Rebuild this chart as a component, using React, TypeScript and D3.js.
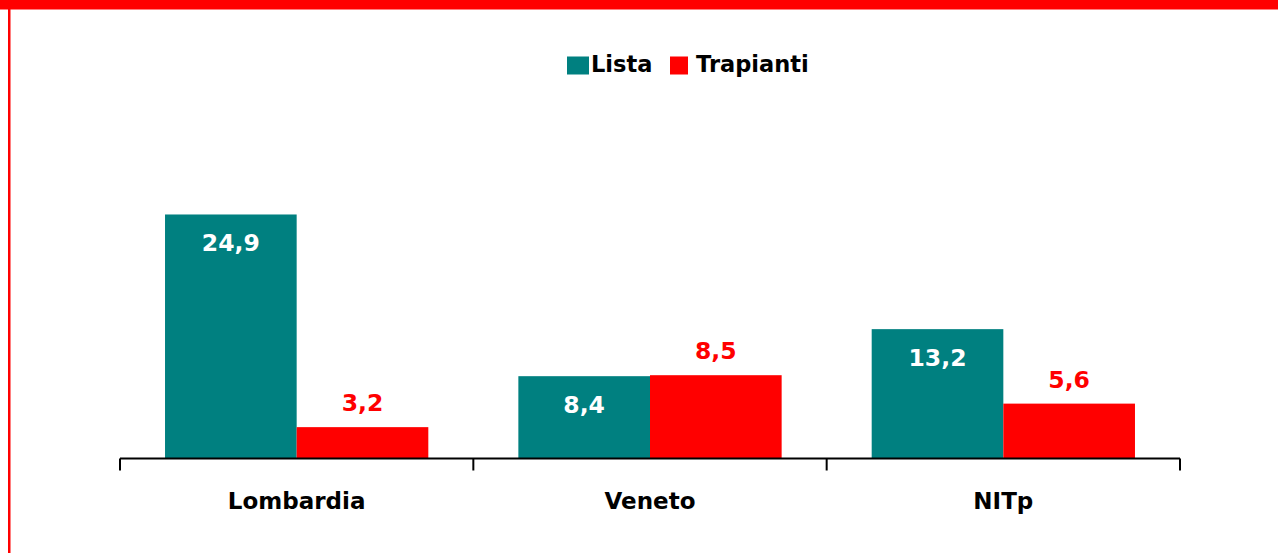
import * as d3 from 'd3'
import { useRef, useEffect } from 'react'

const categories = ['Lombardia', 'Veneto', 'NITp']
const seriesNames = ['Lista', 'Trapianti']
const lista = [24.9, 8.4, 13.2]
const trapianti = [3.2, 8.5, 5.6]
const colors = ['#008080', '#FF0000']

const W = 1278
const H = 553
const FONT = '"DejaVu Sans", Verdana, sans-serif'

function App() {
    const svgRef = useRef<SVGSVGElement>(null)

    useEffect(() => {
        const svg = d3.select(svgRef.current)
        svg.selectAll('*').remove()

        // frame: thick red band on top, thin red line on the left
        svg.append('rect').attr('x', 0).attr('y', 0).attr('width', W).attr('height', 9.5).attr('fill', '#FF0000')
        svg.append('rect').attr('x', 8).attr('y', 0).attr('width', 2.5).attr('height', H).attr('fill', '#FF0000')

        const left = 120, right = 1180, baseY = 458.5
        const scaleX = d3.scaleBand().domain(categories).range([left, right]).paddingInner(0).paddingOuter(0)
        const scaleY = d3.scaleLinear().domain([0, 30]).range([baseY, baseY - 294])
        const inner = d3.scaleBand().domain(seriesNames).range([0, scaleX.bandwidth()]).paddingOuter(0.342).paddingInner(0)

        const series = [lista, trapianti]
        const g = svg.append('g')

        series.forEach((vals, si) => {
            const name = seriesNames[si]
            g.selectAll('.bar-' + si)
                .data(vals)
                .join('rect')
                .attr('class', 'bar-' + si)
                .attr('x', (_, i) => scaleX(categories[i])! + inner(name)!)
                .attr('y', d => scaleY(d))
                .attr('width', inner.bandwidth())
                .attr('height', d => baseY - scaleY(d))
                .attr('fill', colors[si])

            g.selectAll('.lbl-' + si)
                .data(vals)
                .join('text')
                .attr('class', 'lbl-' + si)
                .attr('x', (_, i) => scaleX(categories[i])! + inner(name)! + inner.bandwidth() / 2)
                .attr('y', d => si === 0 ? scaleY(d) + 37 : scaleY(d) - 16)
                .attr('text-anchor', 'middle')
                .attr('font-family', FONT)
                .attr('font-weight', 'bold')
                .attr('font-size', 23.5)
                .attr('fill', si === 0 ? '#FFFFFF' : '#FF0000')
                .text(d => d3.format('.1f')(d).replace('.', ','))
        })

        // axis
        const gx = svg.append('g').attr('transform', `translate(0, ${baseY})`)
        gx.append('line').attr('x1', left).attr('x2', right).attr('stroke', '#000').attr('stroke-width', 2)
        const ticks = [...categories.map(c => scaleX(c)!), right]
        gx.selectAll('.tick')
            .data(ticks)
            .join('line')
            .attr('class', 'tick')
            .attr('x1', d => d).attr('x2', d => d)
            .attr('y1', 0).attr('y2', 12)
            .attr('stroke', '#000').attr('stroke-width', 2)
        gx.selectAll('.cat')
            .data(categories)
            .join('text')
            .attr('class', 'cat')
            .attr('x', d => scaleX(d)! + scaleX.bandwidth() / 2)
            .attr('y', 50)
            .attr('text-anchor', 'middle')
            .attr('font-family', FONT)
            .attr('font-weight', 'bold')
            .attr('font-size', 23)
            .attr('fill', '#000')
            .text(d => d)

        // legend
        const legendItems = [
            { name: seriesNames[0], x: 567, w: 22, tx: 591 },
            { name: seriesNames[1], x: 670, w: 18, tx: 696 },
        ]
        const lg = svg.append('g')
        legendItems.forEach((it, i) => {
            lg.append('rect').attr('x', it.x).attr('y', 56.5).attr('width', it.w).attr('height', 18).attr('fill', colors[i])
            lg.append('text')
                .attr('x', it.tx).attr('y', 72)
                .attr('font-family', FONT)
                .attr('font-weight', 'bold')
                .attr('font-size', 22.5)
                .attr('fill', '#000')
                .text(it.name)
        })
    }, [])

    return (
        <svg ref={svgRef} width={W} height={H}
            style={{ position: 'absolute', left: 0, top: 0, background: '#fff' }}></svg>
    )
}

export default App
